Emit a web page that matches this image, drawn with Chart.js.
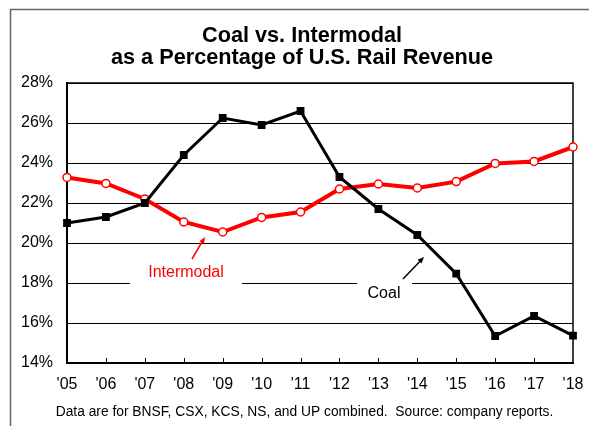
<!DOCTYPE html>
<html>
<head>
<meta charset="utf-8">
<script src="https://cdn.jsdelivr.net/npm/chart.js@4"></script>
<style>
  html, body { margin: 0; padding: 0; background: #fff; }
  #wrap { width: 589px; height: 426px; position: relative; }
</style>
</head>
<body>
<div id="wrap"><canvas id="railChart" width="589" height="426"></canvas></div>
<script>
const years = ["'05","'06","'07","'08","'09","'10","'11","'12","'13","'14","'15","'16","'17","'18"]
const coal = [21.0, 21.3, 22.0, 24.4, 26.25, 25.9, 26.6, 23.3, 21.7, 20.4, 18.47, 15.35, 16.35, 15.37]
const intermodal = [23.28, 22.98, 22.2, 21.05, 20.55, 21.28, 21.55, 22.7, 22.95, 22.75, 23.07, 23.98, 24.08, 24.8]
const yTicks = [14, 16, 18, 20, 22, 24, 26, 28]

const titleLines = ["Coal vs. Intermodal", "as a Percentage of U.S. Rail Revenue"]
const footnote = "Data are for BNSF, CSX, KCS, NS, and UP combined.  Source: company reports."

// white boxes, labels, arrows, frame, inner ticks
const decor = {
    id: 'decor',
    beforeDraw(chart) {
        const ctx = chart.ctx
        ctx.save()
        ctx.fillStyle = '#fff'
        ctx.fillRect(0, 0, chart.width, chart.height)
        ctx.strokeStyle = '#666'
        ctx.lineWidth = 1.5
        ctx.beginPath()
        ctx.moveTo(10.5, chart.height)
        ctx.lineTo(10.5, 9.5)
        ctx.lineTo(chart.width, 9.5)
        ctx.stroke()
        ctx.fillStyle = '#000'
        ctx.textAlign = 'center'
        ctx.textBaseline = 'alphabetic'
        ctx.font = 'bold 21.7px Arial, "Liberation Sans", sans-serif'
        ctx.fillText(titleLines[0], 302, 42)
        ctx.fillText(titleLines[1], 302, 64)
        ctx.textBaseline = 'middle'
        ctx.font = '13.8px Arial, "Liberation Sans", sans-serif'
        ctx.fillText(footnote, 304.5, 412)
        ctx.restore()
    },
    beforeDatasetsDraw(chart) {
        const ctx = chart.ctx
        const a = chart.chartArea
        ctx.save()
        ctx.fillStyle = '#fff'
        ctx.fillRect(130, 262, 112, 26)
        ctx.fillRect(357, 278, 55, 26)
        // plot frame right + top
        ctx.strokeStyle = '#000'
        ctx.lineWidth = 1.5
        ctx.beginPath()
        ctx.moveTo(a.left, a.top)
        ctx.lineTo(a.right, a.top)
        ctx.lineTo(a.right, a.bottom)
        ctx.stroke()
        // inward ticks
        const xs = chart.scales.x
        ctx.lineWidth = 1
        ctx.beginPath()
        for (let i = 1; i < years.length - 1; i++) {
            const px = Math.round(xs.getPixelForValue(i)) + 0.5
            ctx.moveTo(px, a.bottom)
            ctx.lineTo(px, a.bottom - 5)
        }
        ctx.stroke()
        ctx.restore()
    },
    afterDatasetsDraw(chart) {
        const ctx = chart.ctx
        ctx.save()
        ctx.font = '16px Arial, "Liberation Sans", sans-serif'
        ctx.textAlign = 'center'
        ctx.textBaseline = 'middle'
        ctx.fillStyle = '#ff0000'
        ctx.fillText('Intermodal', 186, 273)
        ctx.fillStyle = '#000'
        ctx.fillText('Coal', 384, 294)
        arrow(ctx, 192, 259, 205, 237, '#ff0000')
        arrow(ctx, 403, 279, 424, 257, '#000')
        ctx.restore()
    }
}

function arrow(ctx, x1, y1, x2, y2, color) {
    const ang = Math.atan2(y2 - y1, x2 - x1)
    ctx.strokeStyle = color
    ctx.fillStyle = color
    ctx.lineWidth = 1.5
    ctx.beginPath()
    ctx.moveTo(x1, y1)
    ctx.lineTo(x2 - 4 * Math.cos(ang), y2 - 4 * Math.sin(ang))
    ctx.stroke()
    ctx.beginPath()
    ctx.moveTo(x2, y2)
    ctx.lineTo(x2 - 7 * Math.cos(ang - 0.4), y2 - 7 * Math.sin(ang - 0.4))
    ctx.lineTo(x2 - 7 * Math.cos(ang + 0.4), y2 - 7 * Math.sin(ang + 0.4))
    ctx.closePath()
    ctx.fill()
}

const canvas = document.getElementById('railChart')
const myChart = new Chart(canvas, {
    type: 'line',
    data: {
        labels: years,
        datasets: [{
            label: 'Coal',
            data: coal,
            borderColor: '#000',
            backgroundColor: '#000',
            borderWidth: 3,
            pointStyle: 'rect',
            pointRadius: 5.5,
            pointBorderWidth: 0,
            tension: 0
        }, {
            label: 'Intermodal',
            data: intermodal,
            borderColor: '#ff0000',
            backgroundColor: '#fff',
            borderWidth: 4,
            pointStyle: 'circle',
            pointRadius: 4,
            pointBorderWidth: 1.5,
            pointBorderColor: '#ff0000',
            pointBackgroundColor: '#fff',
            tension: 0
        }]
    },
    options: {
        responsive: false,
        animation: false,
        layout: { padding: { left: 12, right: 16, top: 83, bottom: 35 } },
        plugins: {
            legend: { display: false },
            title: { display: false },
            tooltip: { enabled: false }
        },
        scales: {
            x: {
                offset: false,
                grid: { drawOnChartArea: false, drawTicks: false },
                border: { color: '#000', width: 2 },
                ticks: {
                    color: '#000',
                    padding: 12,
                    maxRotation: 0,
                    autoSkip: false,
                    font: { family: 'Arial, "Liberation Sans", sans-serif', size: 16 }
                },
                afterFit: s => { s.height = 28; s.paddingLeft = 0; s.paddingRight = 0 }
            },
            y: {
                min: 14,
                max: 28,
                afterBuildTicks: s => { s.ticks = yTicks.map(v => ({ value: v })) },
                grid: { color: '#000', lineWidth: 1, drawTicks: false },
                border: { color: '#000', width: 2 },
                ticks: {
                    color: '#000',
                    padding: 14,
                    callback: v => v + '%',
                    font: { family: 'Arial, "Liberation Sans", sans-serif', size: 16 }
                },
                afterFit: s => { s.width = 55 }
            }
        }
    },
    plugins: [decor]
})
</script>
</body>
</html>
